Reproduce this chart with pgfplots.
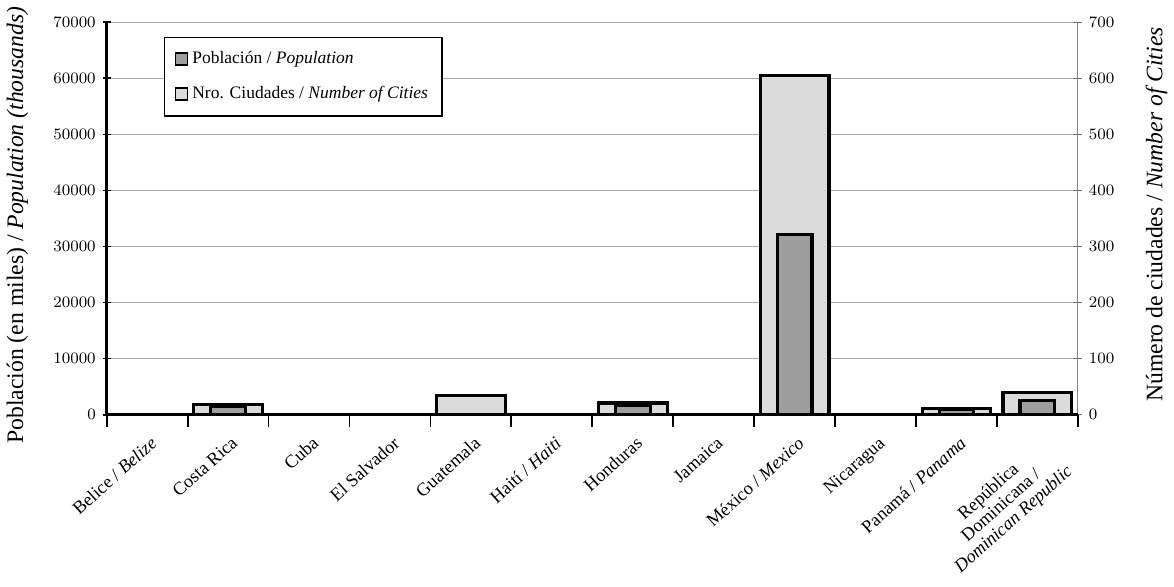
\documentclass[border=0pt]{standalone}
\usepackage{pgfplots}
\pgfplotsset{compat=1.18}
\usepackage{pgfplotstable}
\usepackage{fontspec}
\setmainfont{Liberation Serif}
\definecolor{lightbar}{gray}{0.86}
\definecolor{darkbar}{gray}{0.62}
\pgfplotstableread{
x cities pop
0 0 0
1 18 1500
2 0 0
3 0 0
4 35 0
5 0 0
6 21 1600
7 0 0
8 605 32200
9 0 0
10 11 900
11 40 2600
}\data
\begin{document}
\begin{tikzpicture}
\begin{axis}[
  scale only axis, width=488.5pt, height=197.5pt,
  xmin=-0.5, xmax=11.5, ymin=0, ymax=700,
  axis x line=none, axis y line*=right,
  y axis line style={draw=gray, line width=0.5pt},
  ytick={0,100,...,700},
  ymajorgrids, grid style={gray!70, line width=0.45pt},
  tick align=center, major tick length=4pt,
  ytick style={gray!80!black, line width=0.5pt},
  yticklabel style={font=\fontsize{8.5}{9}\selectfont},
  ylabel={Número de ciudades / \textit{Number of Cities}},
  ylabel style={font=\fontsize{11.9}{13}\selectfont, at={(axis description cs:1.081,0.51)}, anchor=center},
  ybar, bar width=0.85, bar shift=0pt,
]
\addplot[draw=black, line width=1.6pt, fill=lightbar] table[x=x, y=cities] {\data};
\end{axis}
\begin{axis}[
  scale only axis, width=488.5pt, height=197.5pt,
  xmin=-0.5, xmax=11.5, ymin=0, ymax=70000,
  axis x line*=bottom, axis y line*=left,
  axis line style={line width=1.4pt, -},
  ytick={0,10000,...,70000},
  scaled y ticks=false,
  yticklabel style={font=\fontsize{8.5}{9}\selectfont, /pgf/number format/.cd, 1000 sep={}},
  ylabel={Población (en miles) / \textit{Population (thousands)}},
  ylabel style={font=\fontsize{11.9}{13}\selectfont, at={(axis description cs:-0.092,0.483)}, anchor=center},
  xtick={0,...,11},
  xticklabels={Belice / \textit{Belize}, Costa Rica, Cuba, El Salvador, Guatemala, Haití / \textit{Haiti}, Honduras, Jamaica, México / \textit{Mexico}, Nicaragua, Panamá / \textit{Panama}, {República\\Dominicana /\\\textit{Dominican Republic}}},
  major x tick style={draw=none},
  minor xtick={-0.5,0.5,...,11.5},
  minor x tick style={black, line width=0.9pt},
  minor tick length=6pt,
  tick align=center, major tick length=4pt,
  ytick style={black, line width=0.8pt},
  xticklabel style={font=\fontsize{9.2}{9.4}\selectfont, rotate=42, anchor=north east, align=center, yshift=-2pt},
  ybar, bar width=0.43, bar shift=0pt,
  legend cell align=left,
  legend style={at={(rel axis cs:0.059,0.962)}, anchor=north west, draw=black, line width=0.7pt, fill=white,
    font=\fontsize{8.8}{9.5}\selectfont, row sep=6pt, inner xsep=5pt, inner ysep=5pt},
  legend image code/.code={\draw[#1, line width=0.9pt] (0pt,-3pt) rectangle (6pt,3pt);},
]
\addplot[draw=black, line width=1.6pt, fill=darkbar] table[x=x, y=pop] {\data};
\addlegendentry{Población / \textit{Population}}
\addlegendimage{draw=black, fill=lightbar}
\addlegendentry{Nro. Ciudades / \textit{Number of Cities}}
\end{axis}
\end{tikzpicture}
\end{document}
